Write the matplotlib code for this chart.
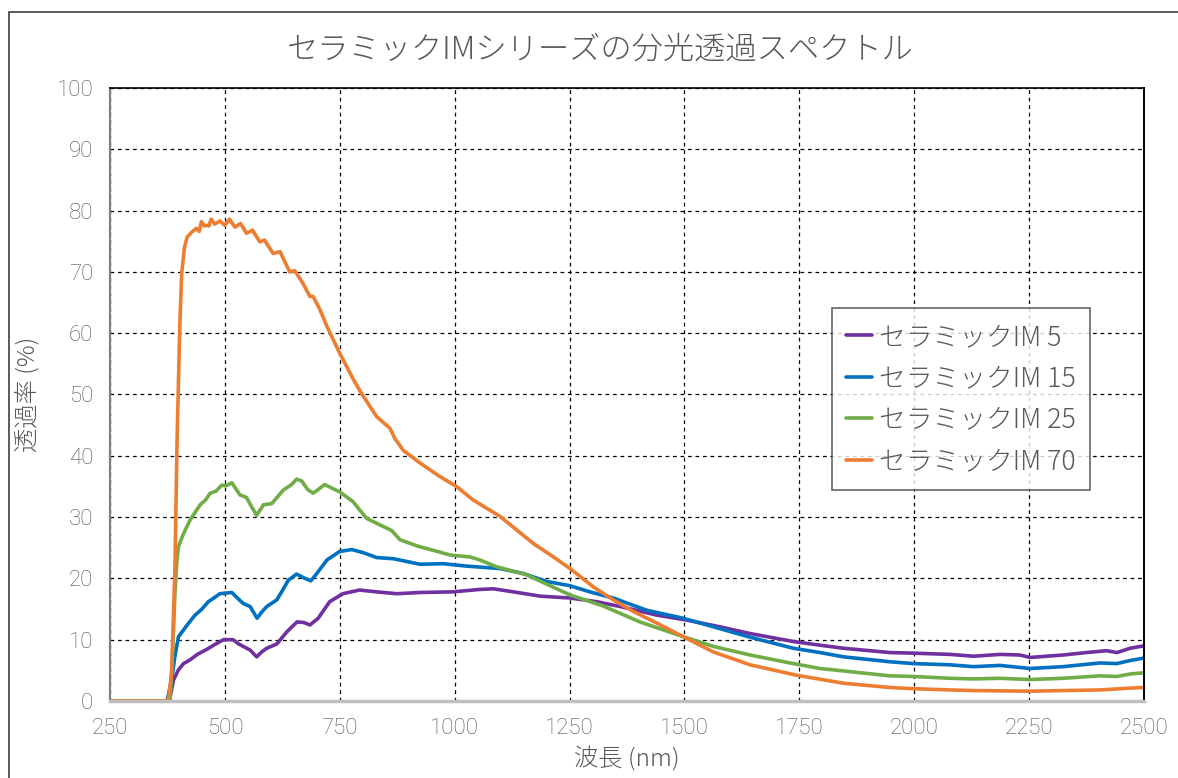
import matplotlib
matplotlib.use("Agg")
import matplotlib.pyplot as plt
from matplotlib.patches import Rectangle

plt.rcParams['font.family'] = ['Noto Sans CJK JP', 'DejaVu Sans']

# 波長 (nm) / 透過率 (%)
wl_im5 = [250, 375, 381, 388, 399, 410, 424, 440, 460, 480, 497, 518, 530, 540, 555, 569, 580, 591,
          613, 635, 657, 672, 685, 703, 728, 757, 793, 830, 874, 925, 996, 1055, 1084, 1128, 1186,
          1251, 1309, 1367, 1440, 1505, 1577, 1643, 1737, 1795, 1846, 1947, 1998, 2078, 2129, 2187,
          2230, 2252, 2324, 2375, 2419, 2441, 2470, 2500]
t_im5 = [0, 0, 0.7, 3.4, 5.1, 6.1, 6.7, 7.6, 8.4, 9.3, 10.0, 10.0, 9.3, 8.9, 8.3, 7.2, 8.0, 8.6,
         9.3, 11.3, 12.9, 12.8, 12.4, 13.5, 16.2, 17.5, 18.1, 17.8, 17.5, 17.7, 17.8, 18.2, 18.3, 17.8, 17.1,
         16.8, 16.2, 15.3, 14.0, 13.2, 12.1, 11.0, 9.7, 9.1, 8.6, 7.9, 7.8, 7.6, 7.3, 7.6,
         7.5, 7.1, 7.5, 7.9, 8.2, 7.9, 8.6, 9.0]

wl_im15 = [250, 374, 384, 391, 399, 410, 422, 435, 450, 464, 476, 489, 502, 515, 527, 540, 555, 570,
           580, 591, 613, 625, 638, 656, 674, 687, 700, 722, 750, 776, 801, 830, 867, 925, 975, 1026,
           1099, 1149, 1200, 1251, 1294, 1345, 1418, 1497, 1563, 1643, 1737, 1795, 1846, 1947, 1998,
           2078, 2129, 2187, 2252, 2324, 2404, 2441, 2470, 2500]
t_im15 = [0, 0, 3.4, 7.2, 10.5, 11.6, 12.8, 14.0, 15.0, 16.2, 16.8, 17.5, 17.6, 17.7, 16.8, 15.9, 15.4, 13.5,
          14.5, 15.4, 16.5, 18.0, 19.7, 20.7, 20.0, 19.6, 20.8, 23.0, 24.4, 24.7, 24.2, 23.4, 23.2, 22.3, 22.4, 22.0,
          21.6, 20.8, 19.5, 18.8, 17.8, 16.8, 14.8, 13.5, 12.1, 10.4, 8.6, 7.9, 7.2, 6.4, 6.1,
          5.9, 5.6, 5.8, 5.3, 5.6, 6.2, 6.1, 6.6, 7.0]

wl_im25 = [250, 372, 381, 386, 391, 395, 399, 410, 424, 446, 458, 468, 480, 493, 502, 515, 525, 533,
           547, 558, 569, 584, 602, 627, 645, 656, 667, 680, 692, 705, 717, 750, 779, 808, 838, 863,
           881, 918, 991, 1033, 1055, 1091, 1156, 1251, 1323, 1403, 1497, 1563, 1643, 1730, 1795,
           1846, 1947, 1998, 2078, 2129, 2187, 2252, 2324, 2404, 2441, 2470, 2500]
t_im25 = [0, 0, 0.3, 7.8, 17.0, 22.5, 25.2, 27.3, 29.5, 32.0, 32.8, 33.9, 34.2, 35.2, 35.1, 35.6, 34.5, 33.6,
          33.2, 31.7, 30.3, 32.0, 32.2, 34.4, 35.3, 36.2, 35.9, 34.5, 33.9, 34.6, 35.3, 34.1, 32.5, 29.8, 28.7, 27.8,
          26.3, 25.3, 23.8, 23.5, 23.0, 21.9, 20.6, 17.3, 15.5, 12.9, 10.5, 8.9, 7.5, 6.2, 5.3,
          4.9, 4.1, 4.0, 3.7, 3.6, 3.7, 3.5, 3.7, 4.1, 4.0, 4.4, 4.6]

wl_im70 = [250, 370, 377, 384, 391, 396, 402, 406, 412, 418, 428, 438, 444, 449, 455, 460, 465, 470,
           478, 489, 500, 510, 516, 522, 534, 547, 560, 576, 586, 605, 620, 641, 652, 670, 685, 692,
           707, 722, 750, 780, 797, 830, 859, 870, 888, 925, 968, 1004, 1040, 1099, 1171, 1215, 1251,
           1302, 1345, 1389, 1440, 1497, 1563, 1643, 1744, 1846, 1947, 1998, 2078, 2129, 2252, 2324,
           2404, 2470, 2500]
t_im70 = [0, 0, 0.3, 4.5, 20.8, 43.0, 61.6, 69.8, 74.0, 75.7, 76.5, 77.1, 76.6, 78.2, 77.5, 77.6, 77.5, 78.6,
          77.8, 78.3, 77.6, 78.6, 77.9, 77.3, 77.9, 76.3, 76.8, 74.9, 75.2, 73.0, 73.3, 70.0, 70.2, 68.1, 66.0, 66.0,
          63.8, 61.1, 56.7, 52.4, 50.2, 46.4, 44.5, 42.8, 40.9, 38.8, 36.6, 35.0, 32.8, 30.1, 25.7, 23.5, 21.6,
          18.6, 16.5, 14.6, 12.7, 10.5, 8.0, 5.9, 4.2, 2.9, 2.2, 2.0, 1.8, 1.7, 1.6, 1.7,
          1.8, 2.1, 2.2]

labels = ['セラミックIM 5', 'セラミックIM 15', 'セラミックIM 25', 'セラミックIM 70']
colors = ['#7030A0', '#0070C0', '#70AD47', '#ED7D31']
x_ticks = [250, 500, 750, 1000, 1250, 1500, 1750, 2000, 2250, 2500]
y_ticks = [0, 10, 20, 30, 40, 50, 60, 70, 80, 90, 100]

txt = '#595959'
num_font = ['Roboto', 'Noto Sans CJK JP', 'DejaVu Sans']

fig = plt.figure(figsize=(11.78, 7.78), dpi=100)
ax = fig.add_axes([0.0934, 0.099, 0.8777, 0.7879])

series = [(wl_im5, t_im5), (wl_im15, t_im15), (wl_im25, t_im25), (wl_im70, t_im70)]
for (x, y), lab, c in zip(series, labels, colors):
    ax.plot(x, y, color=c, lw=2.6, label=lab, solid_capstyle='round', solid_joinstyle='round')

ax.set_xlim(250, 2500)
ax.set_ylim(0, 100)
ax.set_xticks(x_ticks)
ax.set_yticks(y_ticks)
ax.tick_params(length=0, labelsize=16, labelcolor='#505050', pad=12)
for lbl in ax.get_xticklabels() + ax.get_yticklabels():
    lbl.set_family(num_font)
    lbl.set_fontweight('light')
ax.grid(True, color='black', linestyle=(0, (3, 3)), lw=0.9)
ax.set_axisbelow(True)

ax.spines['left'].set_color('#808080')
ax.spines['left'].set_linewidth(1.6)
ax.spines['bottom'].set_color('#BFBFBF')
ax.spines['bottom'].set_linewidth(2.5)
ax.spines['top'].set_color('black')
ax.spines['top'].set_linewidth(1.2)
ax.spines['right'].set_color('black')
ax.spines['right'].set_linewidth(1.4)

ax.set_xlabel('波長 (nm)', fontsize=17.5, color=txt, labelpad=6, fontweight='light')
ax.set_ylabel('透過率 (%)', fontsize=17.5, color=txt, labelpad=12, fontweight='light')

fig.text(0.51, 0.936, 'セラミックIMシリーズの分光透過スペクトル', ha='center', va='center',
         fontsize=22.5, color=txt, fontweight='light')

leg = ax.legend(loc='upper left', bbox_to_anchor=(0.698, 0.641),
                prop={'size': 19.3, 'weight': 'light'},
                frameon=True, fancybox=False, edgecolor='#404040', handlelength=0.95,
                handletextpad=0.25, labelspacing=0.5, borderpad=0.55, borderaxespad=0)
leg.get_frame().set_linewidth(1.2)
for t in leg.get_texts():
    t.set_color(txt)

# outer chart border
fig.patches.append(Rectangle((9 / 1178, -0.05), 1.2, 1 - 12 / 778 + 0.05, transform=fig.transFigure,
                             fill=False, edgecolor='#404040', lw=1.2))

fig.savefig('out.png', dpi=100)
